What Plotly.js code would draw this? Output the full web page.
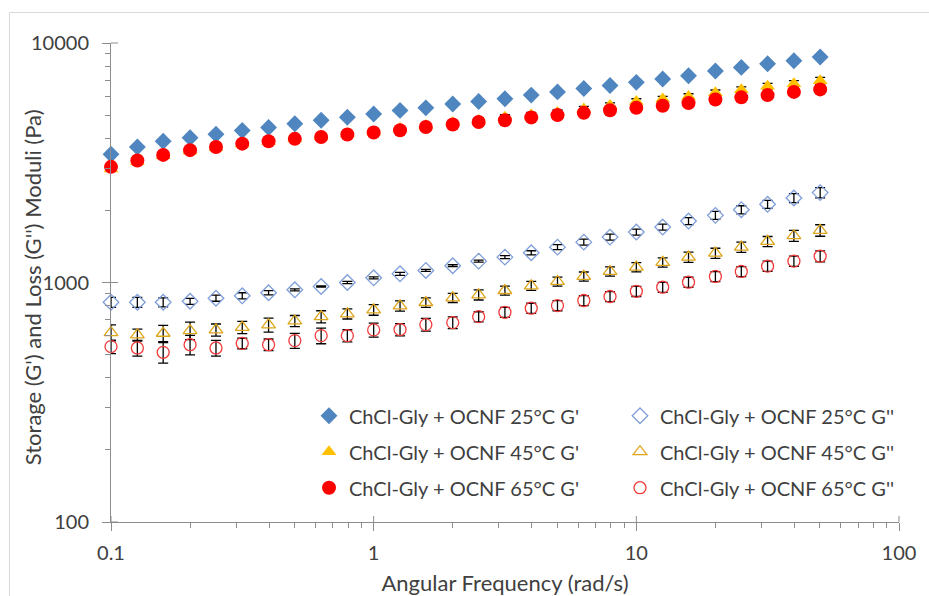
<!DOCTYPE html>
<html>
<head>
<meta charset="utf-8">
<script src="https://cdn.plot.ly/plotly-3.0.1.min.js"></script>
<style>
  html, body { margin: 0; padding: 0; background: #ffffff; }
  #chart { width: 929px; height: 596px; }
</style>
</head>
<body>
<div id="chart"></div>
<script>
// Angular frequency (rad/s)
const freq = [0.1, 0.126, 0.158, 0.2, 0.251, 0.316, 0.398, 0.501, 0.631, 0.794,
              1, 1.26, 1.58, 2, 2.51, 3.16, 3.98, 5.01, 6.31, 7.94,
              10, 12.6, 15.8, 20, 25.1, 31.6, 39.8, 50.1];

// Storage modulus G' (Pa)
const gp25 = [3430, 3680, 3890, 4020, 4160, 4310, 4440, 4600, 4760, 4900,
              5050, 5230, 5360, 5560, 5700, 5850, 6060, 6250, 6460, 6650,
              6850, 7070, 7300, 7640, 7910, 8190, 8430, 8740];
const gp45 = [2980, 3190, 3380, 3540, 3660, 3790, 3880, 3980, 4070, 4170,
              4250, 4400, 4520, 4640, 4750, 4900, 5010, 5130, 5300, 5480,
              5700, 5830, 5980, 6200, 6380, 6600, 6760, 6950];
const gp65 = [3040, 3230, 3410, 3570, 3680, 3800, 3890, 3980, 4050, 4150,
              4230, 4320, 4460, 4570, 4680, 4760, 4890, 5000, 5110, 5240,
              5360, 5470, 5610, 5810, 5930, 6060, 6250, 6400];

// Loss modulus G'' (Pa)
const gpp25 = [827, 827, 827, 835, 860, 880, 906, 932, 962, 1000,
               1046, 1087, 1123, 1175, 1228, 1276, 1331, 1405, 1474, 1547,
               1624, 1704, 1805, 1907, 2014, 2121, 2253, 2373];
const gpp45 = [618, 604, 614, 630, 634, 650, 665, 691, 720, 740,
               769, 799, 825, 863, 888, 926, 969, 1010, 1060, 1112,
               1159, 1213, 1276, 1326, 1405, 1484, 1568, 1651];
const gpp65 = [540, 533, 511, 550, 533, 557, 550, 572, 600, 600,
               634, 636, 667, 680, 720, 751, 781, 801, 841, 874,
               919, 956, 1003, 1060, 1112, 1170, 1228, 1288];

// Error bars (Pa, +/-)
const err_gp45 = [20, 20, 25, 25, 30, 30, 35, 40, 45, 60,
                  60, 65, 70, 90, 110, 120, 125, 130, 135, 140,
                  150, 155, 160, 165, 175, 185, 200, 230];
const err_gp65 = [20, 20, 25, 25, 30, 30, 30, 35, 35, 40,
                  40, 60, 70, 80, 90, 95, 100, 105, 110, 115,
                  120, 125, 130, 135, 140, 145, 150, 155];
const err_gpp25 = [40, 40, 36, 24, 25, 26, 18, 9, 5, 10,
                   10, 16, 11, 11, 12, 19, 26, 34, 43, 45,
                   47, 49, 61, 74, 78, 82, 98, 115];
const err_gpp45 = [47, 35, 48, 53, 37, 38, 45, 37, 42, 36,
                   39, 39, 38, 38, 43, 40, 42, 44, 46, 49,
                   51, 53, 62, 64, 68, 72, 83, 91];
const err_gpp65 = [35, 40, 50, 51, 40, 28, 31, 41, 45, 35,
                   43, 37, 41, 38, 35, 36, 38, 39, 41, 42,
                   45, 46, 49, 51, 54, 57, 60, 68];

// Labels
const names = {
  gp25: "ChCl-Gly + OCNF 25°C G'",
  gpp25: "ChCl-Gly + OCNF 25°C G''",
  gp45: "ChCl-Gly + OCNF 45°C G'",
  gpp45: "ChCl-Gly + OCNF 45°C G''",
  gp65: "ChCl-Gly + OCNF 65°C G'",
  gpp65: "ChCl-Gly + OCNF 65°C G''"
};
const xTitle = 'Angular Frequency (rad/s)';
const yTitle = "Storage (G') and Loss (G'') Moduli (Pa)";
const xTickVals = [0.1, 1, 10, 100];
const xTickText = ["0.1", "1", "10", "100"];
const yTickVals = [100, 1000, 10000];
const yTickText = ["100", "1000", "10000"];
const xMinor = [0.2,0.3,0.4,0.5,0.6,0.7,0.8,0.9,2,3,4,5,6,7,8,9,20,30,40,50,60,70,80,90];
const yMinor = [200,300,400,500,600,700,800,900,2000,3000,4000,5000,6000,7000,8000,9000];

const FONT = "Lato, 'Open Sans', sans-serif";
const TXT = "#404040";
const AX = '#8C8C8C';

function eb(arr) {
  if (!arr) return { visible: false };
  return { type: 'data', array: arr, visible: true, color: '#000000', thickness: 1.3, width: 5 };
}
function tr(y, name, symbol, color, size, err, legend, group) {
  return {
    type: 'scatter', mode: 'markers', x: freq, y: y, name: name,
    legend: legend, legendgroup: group,
    marker: { symbol: symbol, size: size, color: color,
              line: { color: color, width: symbol.indexOf('open') >= 0 ? 1.3 : 0 } },
    error_y: eb(err), cliponaxis: false
  };
}

const data = [
  tr(gpp25, names.gpp25, 'diamond-open', '#7F9ED8', 12, err_gpp25, 'legend2', 'b1'),
  tr(gpp45, names.gpp45, 'triangle-up-open', '#DDA51A', 12, err_gpp45, 'legend2', 'b2'),
  tr(gpp65, names.gpp65, 'circle-open', '#F23A3A', 12, err_gpp65, 'legend2', 'b3'),
  tr(gp25, names.gp25, 'diamond', '#4F86C0', 13, null, 'legend', 'a1'),
  tr(gp45, names.gp45, 'triangle-up', '#FFC000', 13, err_gp45, 'legend', 'a2'),
  tr(gp65, names.gp65, 'circle', '#FF0000', 14, err_gp65, 'legend', 'a3')
];

// crossing (inside) parts of major ticks
const shapes = [];
[0, 1/3, 2/3, 1].forEach(f => shapes.push({ type: 'line', xref: 'paper', yref: 'paper',
  ysizemode: 'pixel', yanchor: 0, x0: f, x1: f, y0: 0, y1: 6, line: { color: AX, width: 1 } }));
[0, 0.5, 1].forEach(f => shapes.push({ type: 'line', xref: 'paper', yref: 'paper',
  xsizemode: 'pixel', xanchor: 0, y0: f, y1: f, x0: 0, x1: 7, line: { color: AX, width: 1 } }));
// chart area frame
shapes.push({ type: 'rect', xref: 'paper', yref: 'paper',
  x0: (9.5 - 111) / 788, x1: (960 - 111) / 788, y0: (521.7 - 640) / 478.7, y1: (521.7 - 12.5) / 478.7,
  line: { color: '#D9D9D9', width: 1 }, fillcolor: 'rgba(0,0,0,0)', layer: 'below' });

const legendCommon = {
  y: (521.7 - 396) / 478.7, xanchor: 'left', yanchor: 'top',
  orientation: 'v', tracegroupgap: 7, traceorder: 'grouped', bgcolor: 'rgba(0,0,0,0)',
  font: { family: FONT, size: 20, color: TXT }, itemclick: false
};

const layout = {
  width: 929, height: 596,
  margin: { l: 111, r: 30, t: 43, b: 74, pad: 0 },
  paper_bgcolor: '#ffffff', plot_bgcolor: '#ffffff',
  font: { family: FONT, size: 20, color: TXT },
  showlegend: true,
  xaxis: {
    type: 'log', range: [-1, 2], showgrid: false, zeroline: false,
    showline: true, linecolor: AX, linewidth: 1,
    tickmode: 'array', tickvals: xTickVals, ticktext: xTickText,
    ticks: 'outside', ticklen: 8, tickcolor: AX, tickwidth: 1,
    ticklabelstandoff: 5,
    tickfont: { family: FONT, size: 20, color: TXT },
    minor: { tickvals: xMinor, ticks: 'outside', ticklen: 5, tickcolor: AX, tickwidth: 1, showgrid: false },
    title: { text: xTitle, font: { family: FONT, size: 22, color: TXT }, standoff: 12 }
  },
  yaxis: {
    type: 'log', range: [2, 4], showgrid: false, zeroline: false,
    showline: true, linecolor: AX, linewidth: 1,
    tickmode: 'array', tickvals: yTickVals, ticktext: yTickText,
    ticks: 'outside', ticklen: 8, tickcolor: AX, tickwidth: 1,
    ticklabelstandoff: 9,
    tickfont: { family: FONT, size: 20, color: TXT },
    minor: { tickvals: yMinor, ticks: 'outside', ticklen: 5, tickcolor: AX, tickwidth: 1, showgrid: false }
  },
  annotations: [{
    text: yTitle, textangle: -90, xref: 'paper', yref: 'paper',
    x: (32 - 111) / 788, y: (521.7 - 287) / 478.7, xanchor: 'center', yanchor: 'middle',
    showarrow: false, font: { family: FONT, size: 22, color: TXT }
  }],
  legend: Object.assign({ x: (309 - 111) / 788 }, legendCommon),
  legend2: Object.assign({ x: (620 - 111) / 788 }, legendCommon),
  shapes: shapes
};

Plotly.newPlot('chart', data, layout, { displayModeBar: false, staticPlot: true });
</script>
</body>
</html>
